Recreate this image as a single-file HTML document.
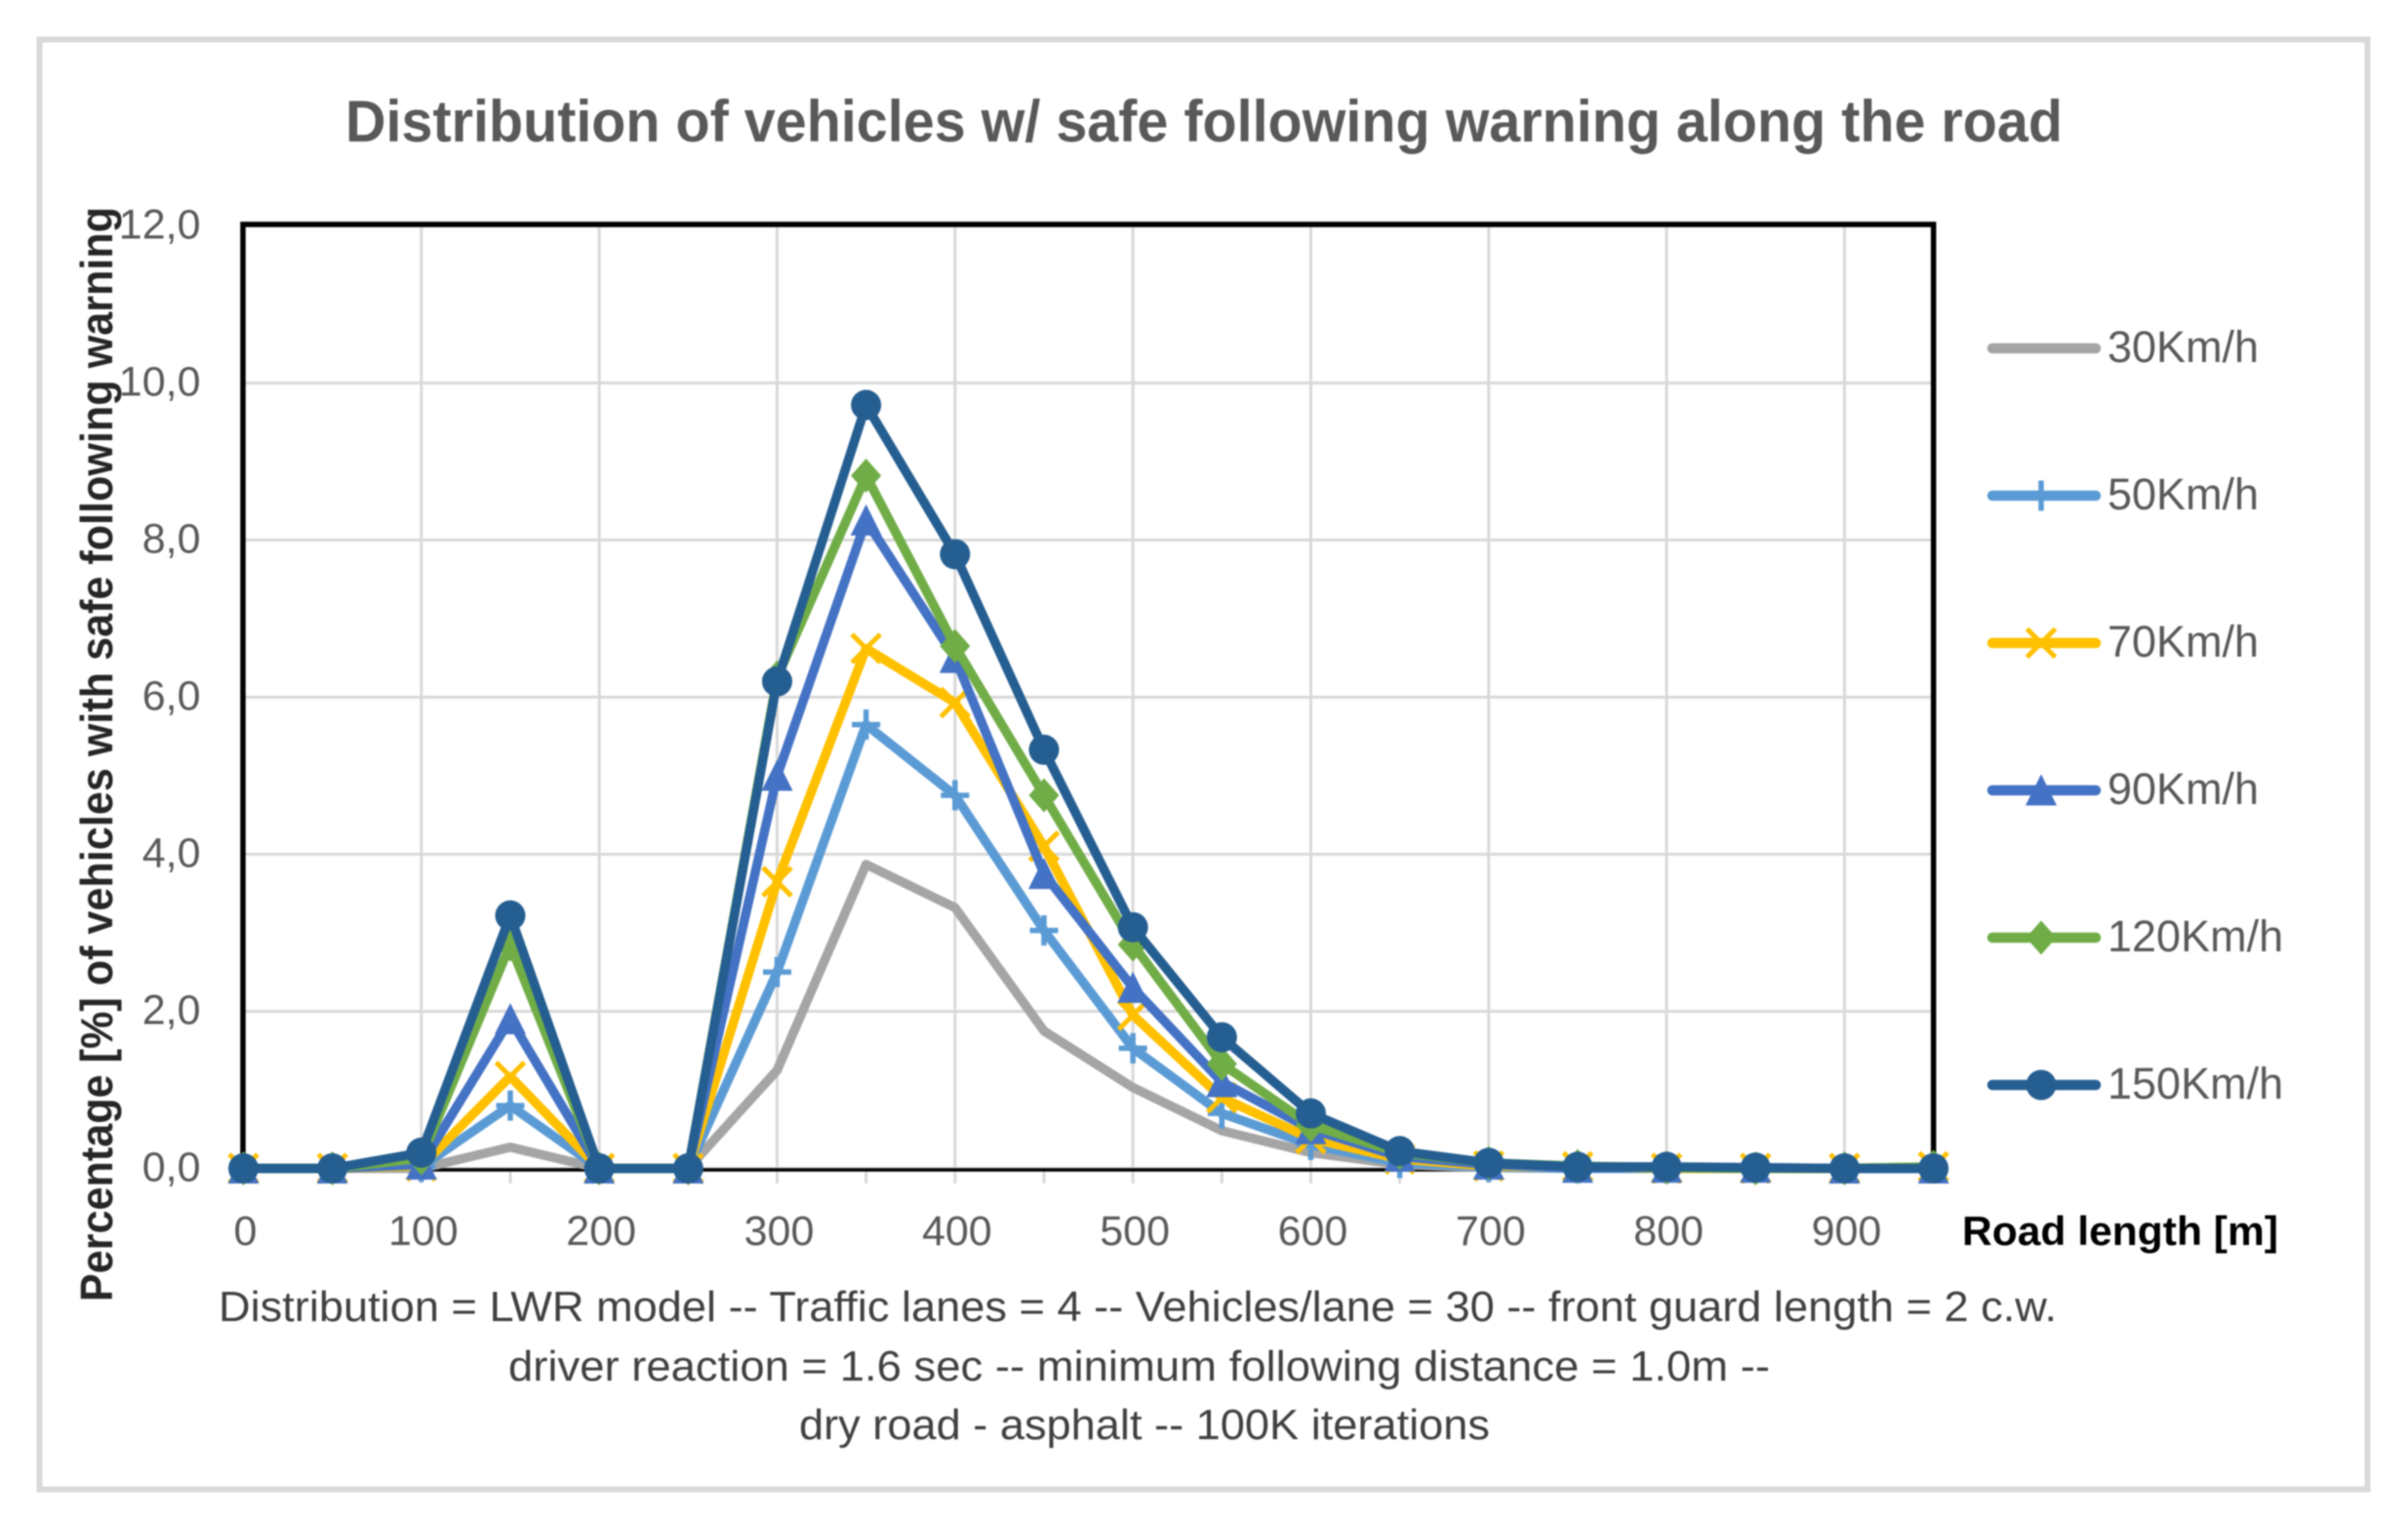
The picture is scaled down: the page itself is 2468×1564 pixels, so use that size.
<!DOCTYPE html>
<html lang="en">
<head>
<meta charset="utf-8">
<title>Distribution of vehicles w/ safe following warning along the road</title>
<style>
  html, body { margin: 0; padding: 0; background: #ffffff; }
  svg { display: block; filter: blur(0.7px); }
  text { font-family: "Liberation Sans", sans-serif; }
</style>
</head>
<body>
<svg id="chart" xmlns="http://www.w3.org/2000/svg" width="2468" height="1564" viewBox="0 0 2468 1564">
  <rect x="40.5" y="40.5" width="2386" height="1486" fill="#ffffff" stroke="#d9d9d9" stroke-width="6"/>
  <text x="354" y="145" font-size="60" font-weight="bold" fill="#595959" textLength="1760" lengthAdjust="spacingAndGlyphs">Distribution of vehicles w/ safe following warning along the road</text>
  <g id="grid"></g>
  <g id="axes"></g>
  <g id="series"></g>
  <g id="ticks"></g>
  <text transform="translate(115,1334) rotate(-90)" font-size="46" font-weight="bold" fill="#262626" textLength="1122" lengthAdjust="spacingAndGlyphs">Percentage [%] of vehicles with safe following warning</text>
  <text x="2011" y="1276" font-size="42" font-weight="bold" fill="#000000" textLength="324" lengthAdjust="spacingAndGlyphs">Road length [m]</text>
  <text x="224" y="1354" font-size="44" fill="#404040" textLength="1884" lengthAdjust="spacingAndGlyphs">Distribution = LWR model -- Traffic lanes = 4 -- Vehicles/lane = 30 -- front guard length = 2 c.w.</text>
  <text x="521" y="1415" font-size="44" fill="#404040" textLength="1293" lengthAdjust="spacingAndGlyphs">driver reaction = 1.6 sec -- minimum following distance = 1.0m --</text>
  <text x="819" y="1475" font-size="44" fill="#404040" textLength="708" lengthAdjust="spacingAndGlyphs">dry road - asphalt -- 100K iterations</text>
  <g id="legend"></g>
</svg>
<script>
const categories = [0, 50, 100, 150, 200, 250, 300, 350, 400, 450, 500, 550, 600, 650, 700, 750, 800, 850, 900, 950];
const xTickLabels = [0, 100, 200, 300, 400, 500, 600, 700, 800, 900];
const yTickValues = [0, 2, 4, 6, 8, 10, 12];
const yTickLabels = ["0,0", "2,0", "4,0", "6,0", "8,0", "10,0", "12,0"];
const seriesNames = ["30Km/h", "50Km/h", "70Km/h", "90Km/h", "120Km/h", "150Km/h"];
const values30 = [0, 0, 0, 0.27, 0, 0, 1.25, 3.87, 3.32, 1.75, 1.03, 0.48, 0.2, 0.05, 0.01, 0, 0, 0, 0, 0];
const values50 = [0, 0, 0.02, 0.8, 0, 0, 2.5, 5.65, 4.75, 3.03, 1.53, 0.7, 0.3, 0.07, 0.02, 0, 0, 0, 0, 0];
const values70 = [0, 0, 0.03, 1.17, 0, 0, 3.65, 6.62, 5.93, 4.1, 1.95, 0.9, 0.38, 0.12, 0.03, 0.02, 0, 0, 0, 0.02];
const values90 = [0, 0, 0.05, 1.9, 0, 0, 5.0, 8.25, 6.5, 3.75, 2.3, 1.1, 0.5, 0.15, 0.05, 0.01, 0.01, 0.01, 0, 0];
const values120 = [0, 0, 0.13, 2.85, 0, 0, 6.25, 8.82, 6.65, 4.75, 2.85, 1.33, 0.55, 0.2, 0.07, 0.03, 0.01, 0, 0, 0.02];
const values150 = [0, 0, 0.2, 3.22, 0, 0, 6.2, 9.72, 7.82, 5.33, 3.07, 1.67, 0.7, 0.22, 0.07, 0.02, 0.02, 0.01, 0, 0];

const allValues = [values30, values50, values70, values90, values120, values150];
const colors = ["#a5a5a5", "#5b9bd5", "#ffc000", "#4472c4", "#70ad47", "#255e91"];
const markerKinds = ["none", "plus", "cross", "triangle", "diamond", "circle"];

const NS = "http://www.w3.org/2000/svg";
function xScale(v) { return 249.5 + v * 1.8233; }
function yScale(v) { return 1197.5 - v * 80.5; }
function make(tag, attrs, parent) {
  const el = document.createElementNS(NS, tag);
  for (const k in attrs) el.setAttribute(k, attrs[k]);
  parent.appendChild(el);
  return el;
}

const grid = document.getElementById("grid");
const axes = document.getElementById("axes");
const seriesGroup = document.getElementById("series");
const ticksGroup = document.getElementById("ticks");
const legend = document.getElementById("legend");
const plotRight = 1981.7;
const plotTop = 230;
const plotBottom = 1199;
const plotLeft = 249;

yTickValues.forEach(function (v) {
  const line = make("line", { x1: plotLeft, x2: plotRight, y1: yScale(v), y2: yScale(v), stroke: "#d9d9d9", "stroke-width": 3 }, grid);
  
  
});
xTickLabels.forEach(function (v) {
  const line = make("line", { x1: xScale(v), x2: xScale(v), y1: plotTop, y2: plotBottom, stroke: "#d9d9d9", "stroke-width": 3 }, grid);
  
  
});
categories.forEach(function (v) {
  const tick = make("line", { x1: xScale(v), x2: xScale(v), y1: plotBottom, y2: plotBottom + 14, stroke: "#d9d9d9", "stroke-width": 3 }, grid);
  
  
});

const plotBorder = make("path", { d: "M" + plotLeft + " " + plotBottom + "V" + plotTop + "H" + plotRight + "V" + plotBottom, fill: "none", stroke: "#000000", "stroke-width": 5.5 }, axes);


const xAxisLine = make("line", { x1: plotLeft, x2: plotRight, y1: plotBottom, y2: plotBottom, stroke: "#000000", "stroke-width": 3.5 }, axes);



function drawMarker(kind, cx, cy, color, parent) {
  const r = 15.5;
  let el = null;
  if (kind === "circle") {
    el = make("circle", { cx: cx, cy: cy, r: r, fill: color }, parent);
  } else if (kind === "diamond") {
    el = make("polygon", { points: [cx, cy - r - 2, cx + r, cy, cx, cy + r + 2, cx - r, cy].join(","), fill: color }, parent);
  } else if (kind === "triangle") {
    el = make("polygon", { points: [cx, cy - r - 1, cx + r + 0.5, cy + r, cx - r - 0.5, cy + r].join(","), fill: color }, parent);
  } else if (kind === "plus") {
    el = make("path", { d: "M" + (cx - r + 1) + " " + cy + "H" + (cx + r - 1) + "M" + cx + " " + (cy - r) + "V" + (cy + r), fill: "none", stroke: color, "stroke-width": 5.5 }, parent);
  } else if (kind === "cross") {
    el = make("path", { d: "M" + (cx - r + 1) + " " + (cy - r + 1) + "L" + (cx + r - 1) + " " + (cy + r - 1) + "M" + (cx + r - 1) + " " + (cy - r + 1) + "L" + (cx - r + 1) + " " + (cy + r - 1), fill: "none", stroke: color, "stroke-width": 5 }, parent);
  }
  return el;
}

allValues.forEach(function (vals, si) {
  const g = make("g", {}, seriesGroup);
  
  
  const pts = vals.map(function (v, i) { return xScale(categories[i]) + "," + yScale(v); }).join(" ");
  const line = make("polyline", { points: pts, fill: "none", stroke: colors[si], "stroke-width": 9.5, "stroke-linejoin": "round", "stroke-linecap": "round" }, g);
  
  
  vals.forEach(function (v, i) {
    const m = drawMarker(markerKinds[si], xScale(categories[i]), yScale(v), colors[si], g);
    if (m) {
      
      
    }
  });
});

yTickValues.forEach(function (v, i) {
  const t = make("text", { x: 205.5, y: yScale(v) + 13, "text-anchor": "end", "font-size": 43, fill: "#595959" }, ticksGroup);
  t.textContent = yTickLabels[i];
  
  
});
xTickLabels.forEach(function (v) {
  const t = make("text", { x: xScale(v) + 2, y: 1276, "text-anchor": "middle", "font-size": 43, fill: "#595959" }, ticksGroup);
  t.textContent = String(v);
  
  
});

const legendTop = 357;
const legendStep = 151;
seriesNames.forEach(function (name, si) {
  const y = legendTop + si * legendStep;
  const g = make("g", {}, legend);
  
  
  const swatch = make("line", { x1: 2042, x2: 2148, y1: y, y2: y, stroke: colors[si], "stroke-width": 10.5, "stroke-linecap": "round" }, g);
  
  
  const mark = drawMarker(markerKinds[si], 2092, y, colors[si], g);
  if (mark) {
    
    
  }
  const label = make("text", { x: 2160, y: y + 14, "font-size": 45, fill: "#595959" }, g);
  label.textContent = name;
  
  
});
</script>
</body>
</html>
